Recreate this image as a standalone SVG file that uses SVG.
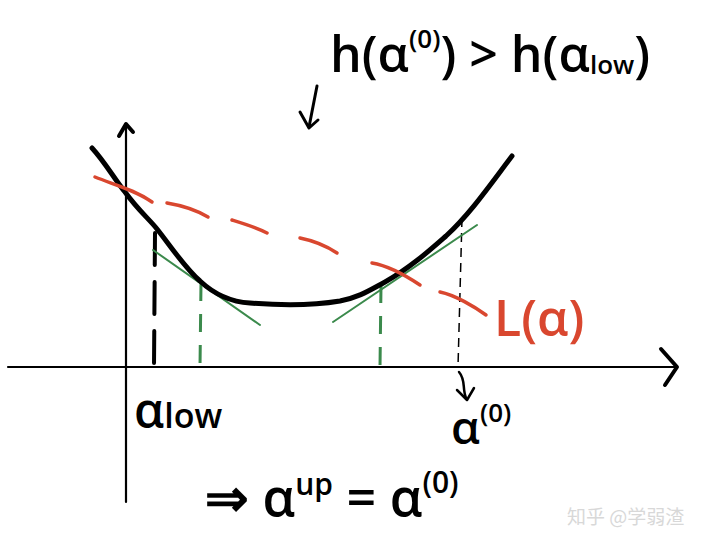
<svg xmlns="http://www.w3.org/2000/svg" width="720" height="548" viewBox="0 0 720 548">
<style>
.ax{fill:none;stroke:#000;stroke-width:2.2;stroke-linecap:round;stroke-linejoin:round}
.ah{fill:none;stroke:#000;stroke-width:4;stroke-linecap:round;stroke-linejoin:round}
.curve{fill:none;stroke:#000;stroke-width:5;stroke-linecap:round;stroke-linejoin:round}
.red{fill:none;stroke:#d9472f;stroke-width:3.5;stroke-linecap:round}
.grn{fill:none;stroke:#3b8a4c;stroke-width:2;stroke-linecap:round}
.gdash{fill:none;stroke:#3b8a4c;stroke-width:3;stroke-dasharray:18 13}
.bdash{fill:none;stroke:#000;stroke-width:4;stroke-dasharray:32 17;stroke-linecap:round}
.tdash{fill:none;stroke:#000;stroke-width:1.5;stroke-dasharray:9 6}
.t{font-family:"Open Sans","Liberation Sans",sans-serif;font-weight:600;fill:#000}
.tr{font-family:"Open Sans","Liberation Sans",sans-serif;font-weight:600;fill:#d9472f}
.wm{font-family:"Noto Sans CJK SC",sans-serif;fill:#d8d8d8;font-size:19px}
</style>
<rect width="720" height="548" fill="#fff"/>
<g id="axes">
<path class="ax" d="M8 367 L676 367"/>
<path class="ah" d="M661 349 L677 367 L665 385"/>
<path class="ax" d="M126 502 L126 126"/>
<path class="ah" d="M119 136 L126 124 L133 132"/>
</g>
<g id="connectors">
<path class="bdash" d="M155 233 L154 367"/>
<path class="tdash" d="M462 218 L458 367"/>
<path class="gdash" d="M201 283 L200 367"/>
<path class="gdash" d="M381 285 L380 367"/>
<path class="grn" d="M153 250 L260 325"/>
<path class="grn" d="M333 322 L477 225"/>
<path class="ah" style="stroke-width:2.5" d="M459 372 C466 380 462 388 466 398"/>
<path class="ah" style="stroke-width:2.5" d="M457 390 L467 400 L474 388"/>
<path class="ah" style="stroke-width:3" d="M317 86 L309 127"/>
<path class="ah" style="stroke-width:3" d="M300 112 L309 128 L318 120"/>
</g>
<g id="h-curve">
<path class="curve" d="M92 148 C105 162 115 180 125 192 C138 210 150 220 157 229 C172 248 185 268 200 281 C215 295 232 302 250 303 C275 305 310 306 340 301 C360 297 370 290 385 282 C410 268 430 250 446 236 C470 214 490 185 512 156"/>
</g>
<g id="L-line">
<path class="red" d="M95 177 C115 185 135 190 152 202"/>
<path class="red" d="M167 203 C185 206 198 211 208 217"/>
<path class="red" d="M232 220 C245 224 255 227 267 233"/>
<path class="red" d="M300 238 C315 241 328 247 337 253"/>
<path class="red" d="M372 263 C390 266 408 277 420 285"/>
<path class="red" d="M440 292 C455 295 475 307 486 315"/>
</g>
<g id="labels">
<text class="t" x="330" y="72" font-size="50">h(α<tspan font-size="26" dy="-24">(0)</tspan><tspan dy="24">) &gt; h(α</tspan><tspan font-size="26" dy="2">low</tspan><tspan dy="-2">)</tspan></text>
<text class="tr" x="494" y="336" font-size="50">L(α)</text>
<text class="t" x="134" y="428" font-size="48">α<tspan font-size="34">low</tspan></text>
<text class="t" x="451" y="444" font-size="46">α<tspan font-size="26" dy="-22">(0)</tspan></text>
<text class="t" x="205" y="516" font-size="52">⇒ α<tspan font-size="30" dy="-21">up</tspan><tspan dy="21"> = α</tspan><tspan font-size="30" dy="-23">(0)</tspan></text>
<text class="wm" x="567" y="524">知乎 @学弱渣</text>
</g>
</svg>
